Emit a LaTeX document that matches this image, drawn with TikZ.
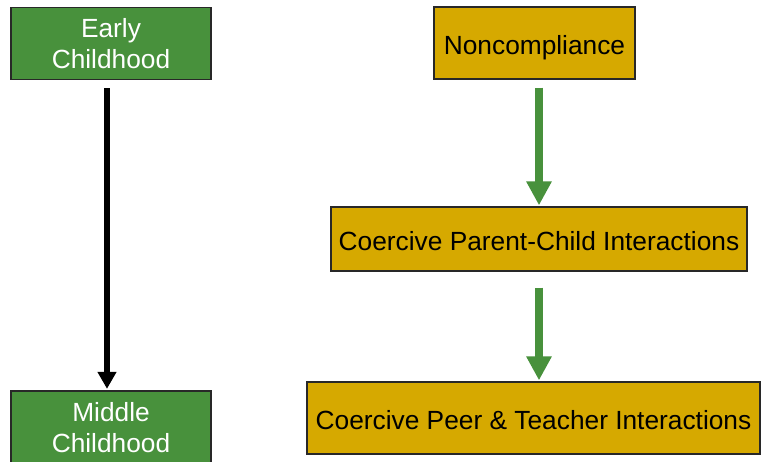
\documentclass[tikz,border=0pt]{standalone}
\usepackage{fontspec}
\setmainfont{Liberation Sans}
\usetikzlibrary{arrows.meta,calc}
\definecolor{boxgreen}{RGB}{72,145,60}
\definecolor{boxgold}{RGB}{214,169,0}
\definecolor{edgegray}{RGB}{40,40,40}
\begin{document}
\begin{tikzpicture}[x=1pt,y=-1pt,
  txt/.style={font=\fontsize{26.3}{31.5}\selectfont},
  box/.style={draw=edgegray,line width=1.3pt,inner sep=0pt,align=center,txt},
  oneline/.style={text height=22.5pt,text depth=0pt},
  greenbox/.style={box,fill=boxgreen,text=white},
  goldbox/.style={box,fill=boxgold,text=black,oneline},
  blackarrow/.style={line width=6pt,-{Triangle[width=18pt,length=17pt]}},
  greenarrow/.style={draw=boxgreen,line width=8pt,-{Triangle[width=24pt,length=24pt]},color=boxgreen}]
\useasboundingbox (0,0) rectangle (761,462);
\begin{scope}
\clip (0,0) rectangle (761,462);
\node[greenbox,minimum width=200pt,minimum height=72pt] (ec) at (111,43.5) {Early\\Childhood};
\node[greenbox,minimum width=200pt,minimum height=72pt] (mc) at (111,427) {};
\node[text=white,txt,align=center,inner sep=0pt] (mct) at (111,427.5) {Middle\\Childhood};
\node[goldbox,minimum width=201pt,minimum height=72pt] (nc) at (534.5,43) {Noncompliance};
\node[goldbox,minimum width=416pt,minimum height=64pt] (pc) at (539,239) {Coercive Parent-Child Interactions};
\node[goldbox,minimum width=453pt,minimum height=72pt] (pp) at (533.5,418) {Coercive Peer \& Teacher Interactions};
\end{scope}
\draw[blackarrow,shorten <=8pt,shorten >=1.5pt] ($(ec.south)+(-4,0)$) -- ($(mc.north)+(-4,0)$);
\draw[greenarrow,shorten <=8pt,shorten >=1pt] (nc.south -| pc.north) -- (pc.north);
\draw[greenarrow,shorten <=16pt,shorten >=1pt] (pc.south) -- (pp.north -| pc.south);
\end{tikzpicture}
\end{document}
